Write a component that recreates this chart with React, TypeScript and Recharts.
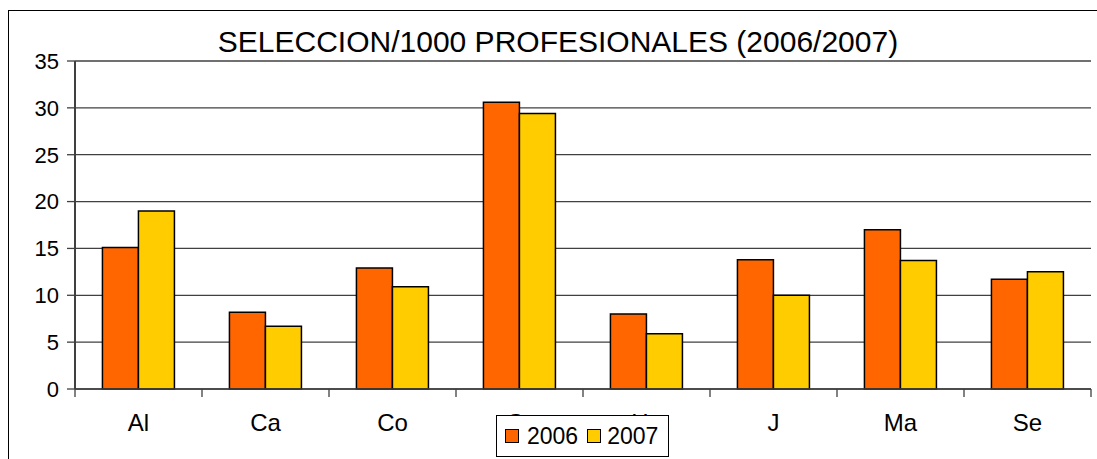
import { BarChart, Bar, XAxis, YAxis, CartesianGrid, Legend } from "recharts";

const CATS = ["Al", "Ca", "Co", "Gr", "Hu", "J", "Ma", "Se"];
const V2006 = [15.1, 8.2, 12.9, 30.6, 8.0, 13.8, 17.0, 11.7];
const V2007 = [19.0, 6.7, 10.9, 29.4, 5.9, 10.0, 13.7, 12.5];
const Y_TICKS = [0, 5, 10, 15, 20, 25, 30, 35];

const W = 1097;
const H = 459;
const LEFT = 75;
const RIGHT = 6;
const BAND = (W - LEFT - RIGHT) / CATS.length;
const FONT = "'Liberation Sans', Arial, sans-serif";

const data = CATS.map((c, i) => ({ name: c, y2006: V2006[i], y2007: V2007[i] }));

function XTick(props: any) {
  const { x, y, payload, index } = props;
  const half = BAND / 2;
  return (
    <g>
      <line x1={x - half} x2={x - half} y1={y} y2={y + 8} stroke="#404040" strokeWidth={1.3} />
      {index === CATS.length - 1 && (
        <line x1={x + half} x2={x + half} y1={y} y2={y + 8} stroke="#404040" strokeWidth={1.3} />
      )}
      <text x={x} y={y + 42} textAnchor="middle" fontSize={24} fontFamily={FONT} fill="#000">
        {payload.value}
      </text>
    </g>
  );
}

function LegendBox() {
  const sq = (color: string) => (
    <span style={{ display: "inline-block", width: 12, height: 12, background: color, border: "1px solid #000" }} />
  );
  return (
    <div
      style={{
        boxSizing: "border-box",
        width: 173,
        height: 42,
        border: "1px solid #000",
        background: "#fff",
        display: "flex",
        alignItems: "center",
        paddingLeft: 8,
        fontFamily: FONT,
        fontSize: 23,
        color: "#000",
      }}
    >
      {sq("#FF6600")}
      <span style={{ marginLeft: 8, marginRight: 9 }}>2006</span>
      {sq("#FFCC00")}
      <span style={{ marginLeft: 6 }}>2007</span>
    </div>
  );
}

export default function App() {
  return (
    <div style={{ position: "absolute", left: 0, top: 0, width: W, height: H, overflow: "hidden", background: "#fff" }}>
      <div
        style={{
          position: "absolute",
          left: 8,
          top: 10,
          width: 1100,
          height: 460,
          border: "1px solid #000",
        }}
      />
      <div style={{ position: "absolute", left: 0, top: 0 }}>
        <BarChart
          width={W}
          height={H}
          data={data}
          margin={{ top: 61, right: RIGHT, left: 0, bottom: 0 }}
          barCategoryGap="21.6%"
          barGap={0}
        >
          <text x={558} y={52} textAnchor="middle" fontSize={30} fontFamily={FONT} fill="#000">
            SELECCION/1000 PROFESIONALES (2006/2007)
          </text>
          <CartesianGrid vertical={false} stroke="#404040" strokeWidth={1.3} />
          <XAxis
            dataKey="name"
            height={70}
            axisLine={{ stroke: "#404040", strokeWidth: 1.5 }}
            tickLine={false}
            tickSize={0}
            tickMargin={0}
            tick={<XTick />}
            interval={0}
          />
          <YAxis
            width={LEFT}
            domain={[0, 35]}
            ticks={Y_TICKS}
            interval={0}
            axisLine={{ stroke: "#404040", strokeWidth: 2 }}
            tickLine={{ stroke: "#404040", strokeWidth: 1.3 }}
            tickSize={8}
            tickMargin={8}
            tick={{ fontSize: 22, fontFamily: FONT, fill: "#000" }}
          />
          <YAxis
            yAxisId="r"
            orientation="right"
            width={0}
            tick={false}
            tickLine={false}
            axisLine={{ stroke: "#808080", strokeWidth: 1.5 }}
          />
          <Legend
            verticalAlign="middle"
            align="center"
            layout="horizontal"
            content={() => <LegendBox />}
            wrapperStyle={{ left: 496, top: 415, width: 173, height: 42 }}
          />
          <Bar dataKey="y2006" name="2006" fill="#FF6600" stroke="#000" strokeWidth={1.5} isAnimationActive={false} />
          <Bar dataKey="y2007" name="2007" fill="#FFCC00" stroke="#000" strokeWidth={1.5} isAnimationActive={false} />
        </BarChart>
      </div>
    </div>
  );
}
